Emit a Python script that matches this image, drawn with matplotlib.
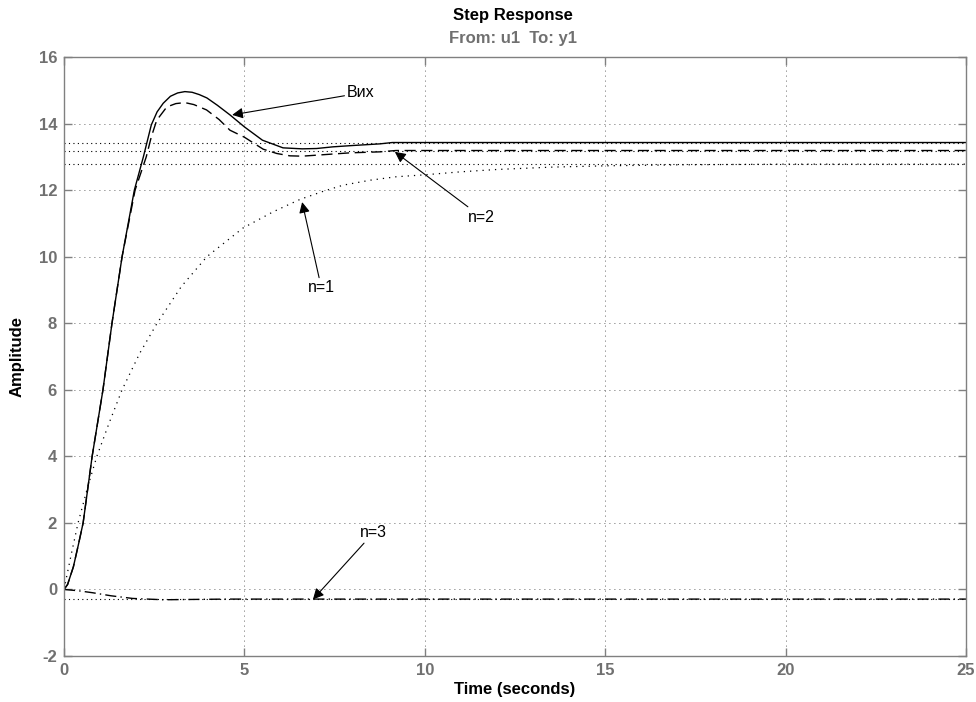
import matplotlib
matplotlib.use("Agg")
from matplotlib import pyplot as plt

plt.rcParams["font.family"] = ["Liberation Sans", "DejaVu Sans"]
plt.rcParams["axes.unicode_minus"] = False

# Output (solid)
t_out = [0, 0.1, 0.26, 0.4, 0.53, 0.78, 1.08, 1.33, 1.61, 1.95, 2.2, 2.42, 2.58, 2.75,
         2.95, 3.15, 3.35, 3.55, 3.75, 3.96, 4.25, 4.6, 5.0, 5.5, 6.07, 6.6, 7.0, 7.45,
         8.0, 8.76, 9.1, 25]
y_out = [0, 0.15, 0.68, 1.35, 2.0, 4.0, 6.0, 8.0, 10.0, 12.0, 13.0, 13.96, 14.35, 14.61,
         14.82, 14.92, 14.96, 14.94, 14.87, 14.77, 14.55, 14.26, 13.9, 13.5, 13.27, 13.24,
         13.25, 13.3, 13.34, 13.39, 13.43, 13.43]

# n=2 (dashed)
t_n2 = [0, 0.1, 0.26, 0.4, 0.53, 0.78, 1.08, 1.33, 1.61, 1.97, 2.28, 2.42, 2.57, 2.85,
        3.1, 3.35, 3.6, 3.95, 4.3, 4.6, 5.0, 5.52, 5.9, 6.26, 6.6, 7.0, 7.93, 8.76, 9.2, 25]
y_n2 = [0, 0.15, 0.68, 1.35, 2.0, 4.0, 6.0, 8.0, 10.0, 12.0, 13.0, 13.6, 14.1, 14.5,
        14.6, 14.63, 14.57, 14.41, 14.12, 13.8, 13.59, 13.23, 13.1, 13.03, 13.02, 13.05,
        13.12, 13.15, 13.19, 13.19]

# n=1 (dotted)
t_n1 = [0, 0.2, 0.39, 0.65, 0.91, 1.25, 1.61, 2.1, 2.58, 3.25, 3.96, 4.96, 5.8, 6.54,
        7.2, 7.74, 8.5, 9.2, 10.0, 11.0, 12.0, 13.5, 15, 17, 20, 25]
y_n1 = [0, 1.05, 2.0, 3.05, 4.0, 5.0, 6.0, 7.1, 8.0, 9.1, 10.0, 10.86, 11.35, 11.72,
        11.97, 12.15, 12.3, 12.4, 12.46, 12.55, 12.62, 12.69, 12.73, 12.76, 12.78, 12.78]

# n=3 (dash-dot)
t_n3 = [0, 0.4, 0.8, 1.3, 1.9, 2.75, 3.6, 4.5, 6, 25]
y_n3 = [0, -0.04, -0.1, -0.19, -0.27, -0.31, -0.3, -0.29, -0.29, -0.29]

# steady-state levels
final_values = [13.43, 13.19, 12.78, -0.29]

x_ticks = [0, 5, 10, 15, 20, 25]
y_ticks = [-2, 0, 2, 4, 6, 8, 10, 12, 14, 16]

fig = plt.figure(figsize=(9.76, 7.02), dpi=100)
ax = fig.add_axes([64 / 976, 46 / 702, 902 / 976, 599 / 702])

for v in final_values:
    ax.plot([0, 25], [v, v], color="black", lw=0.8, linestyle=(0, (1, 3)))

ax.plot(t_out, y_out, color="black", lw=1.0)
ax.plot(t_n2, y_n2, color="black", lw=1.0, linestyle=(0, (8, 4)))
ax.plot(t_n1, y_n1, color="black", lw=0.9, linestyle=(0, (1, 4)))
ax.plot(t_n3, y_n3, color="black", lw=1.0, linestyle=(0, (8, 3, 1, 3)))

ax.set_xlim(0, 25)
ax.set_ylim(-2, 16)
ax.set_xticks(x_ticks)
ax.set_yticks(y_ticks)
ax.grid(True, color="#333333", lw=0.6, linestyle=(0, (1, 5)))

gray = "#707070"
for s in ax.spines.values():
    s.set_color("#808080")
    s.set_linewidth(1.0)
ax.tick_params(direction="in", length=6, width=1, color="#808080",
               top=True, right=True, labelsize=12, labelcolor=gray, pad=5)
for lab in ax.get_xticklabels() + ax.get_yticklabels():
    lab.set_fontweight("bold")

ax.set_xlabel("Time (seconds)", fontsize=12, fontweight="bold", labelpad=3)
ax.set_ylabel("Amplitude", fontsize=12, fontweight="bold", labelpad=10)

fig.text(0.526, 0.978, "Step Response", ha="center", va="center",
         fontsize=12, fontweight="bold")
fig.text(0.526, 0.945, "From: u1  To: y1", ha="center", va="center",
         fontsize=12, fontweight="bold", color=gray)

arrow = dict(arrowstyle="-|>", color="black", lw=0.8, mutation_scale=16,
             shrinkA=0, shrinkB=0)
ax.annotate("Вих", xy=(4.66, 14.26), xytext=(7.85, 14.92), fontsize=11.5,
            ha="left", va="center", arrowprops=arrow)
ax.annotate("n=2", xy=(9.17, 13.15), xytext=(11.2, 11.19), fontsize=11.5,
            ha="left", va="center", arrowprops=arrow)
ax.annotate("n=1", xy=(6.6, 11.64), xytext=(6.76, 9.06), fontsize=11.5,
            ha="left", va="center", arrowprops=arrow)
ax.annotate("n=3", xy=(6.9, -0.3), xytext=(8.2, 1.7), fontsize=11.5,
            ha="left", va="center", arrowprops=arrow)

plt.savefig("out.png", dpi=100)
